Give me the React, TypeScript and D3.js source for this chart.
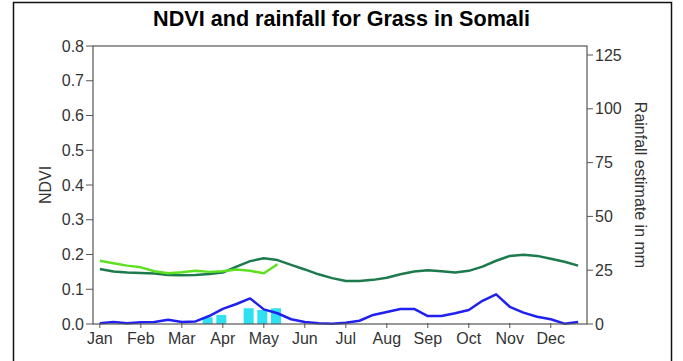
import React, { useEffect, useRef } from "react";
import * as d3 from "d3";

// Dekadal series (36 dekads, Jan–Dec)
const months = ["Jan", "Feb", "Mar", "Apr", "May", "Jun", "Jul", "Aug", "Sep", "Oct", "Nov", "Dec"];
const ndviTicks = [0, 0.1, 0.2, 0.3, 0.4, 0.5, 0.6, 0.7, 0.8];
const rainTicks = [0, 25, 50, 75, 100, 125];

// Long-term average NDVI
const ndviAverage = [
  0.158, 0.151, 0.148, 0.147, 0.145, 0.141, 0.140, 0.141, 0.144, 0.148, 0.165, 0.181,
  0.189, 0.184, 0.170, 0.157, 0.143, 0.132, 0.124, 0.124, 0.127, 0.133, 0.143, 0.151,
  0.155, 0.152, 0.148, 0.153, 0.165, 0.182, 0.196, 0.199, 0.196, 0.188, 0.179, 0.168,
];

// Current-year NDVI (available through mid May)
const ndviCurrent = [
  0.182, 0.175, 0.168, 0.163, 0.152, 0.146, 0.149, 0.153, 0.150, 0.152, 0.157, 0.153, 0.146, 0.172,
];

// Long-term average rainfall (mm)
const rainAverage = [
  0.3, 0.9, 0.3, 0.8, 0.9, 2.0, 0.9, 1.2, 3.7, 7.0, 9.3, 11.9,
  6.8, 5.0, 2.2, 0.9, 0.3, 0.15, 0.6, 1.5, 4.2, 5.6, 7.0, 7.0,
  3.7, 3.7, 5.0, 6.5, 10.8, 13.8, 8.0, 5.3, 3.4, 2.2, 0.15, 0.9,
];

// Current-year rainfall estimate (mm)
const rainCurrent = [0, 0, 0, 0, 0, 0, 0, 0, 3.1, 4.2, 0, 7.3, 6.5, 7.3];

const W = 683;
const H = 361;
const plot = { left: 93, right: 587, top: 46, bottom: 324 };
const FONT = "'Liberation Sans', Arial, sans-serif";

export default function App() {
  const ref = useRef<SVGSVGElement>(null);

  useEffect(() => {
    const svg = d3.select(ref.current);
    svg.selectAll("*").remove();

    const x = d3.scaleLinear().domain([-0.5, 35.65]).range([plot.left, plot.right]);
    const yN = d3.scaleLinear().domain([0, 0.8]).range([plot.bottom, plot.top]);
    const yR = d3.scaleLinear().domain([0, (125 * 278) / 269]).range([plot.bottom, plot.top]);

    svg.append("rect").attr("width", W).attr("height", H).attr("fill", "#fff");
    // outer frame
    svg.append("rect")
      .attr("x", 13.5).attr("y", 2.5).attr("width", 658).attr("height", 370)
      .attr("fill", "none").attr("stroke", "#111").attr("stroke-width", 1.5);

    svg.append("text")
      .attr("x", 341.5).attr("y", 26).attr("text-anchor", "middle")
      .attr("font-family", FONT).attr("font-weight", "bold").attr("font-size", 21.6)
      .attr("fill", "#000").text("NDVI and rainfall for Grass in Somali");

    // rainfall bars
    svg.append("g").selectAll("rect")
      .data(rainCurrent.map((v, i) => ({ v, i })).filter((d) => d.v > 0))
      .join("rect")
      .attr("x", (d) => x(d.i) - 6.5)
      .attr("width", 10)
      .attr("y", (d) => yR(d.v))
      .attr("height", (d) => yR(0) - yR(d.v))
      .attr("fill", "#2ee0f2");

    const lineN = d3.line<number>().x((_, i) => x(i)).y((d) => yN(d));
    const lineR = d3.line<number>().x((_, i) => x(i)).y((d) => yR(d));

    svg.append("path").attr("d", lineN(ndviAverage)!).attr("fill", "none")
      .attr("stroke", "#1c7a4c").attr("stroke-width", 2.5).attr("stroke-linejoin", "round");
    svg.append("path").attr("d", lineN(ndviCurrent)!).attr("fill", "none")
      .attr("stroke", "#5ee022").attr("stroke-width", 2.5).attr("stroke-linejoin", "round");
    svg.append("path").attr("d", lineR(rainAverage)!).attr("fill", "none")
      .attr("stroke", "#2020f0").attr("stroke-width", 2.5).attr("stroke-linejoin", "round");

    // plot frame
    svg.append("rect")
      .attr("x", plot.left).attr("y", plot.top)
      .attr("width", plot.right - plot.left).attr("height", plot.bottom - plot.top)
      .attr("fill", "none").attr("stroke", "#555").attr("stroke-width", 1.2);

    const tickColor = "#555";
    const labelColor = "#333";

    // left axis
    const gl = svg.append("g");
    ndviTicks.forEach((t) => {
      gl.append("line").attr("x1", plot.left - 7).attr("x2", plot.left)
        .attr("y1", yN(t)).attr("y2", yN(t)).attr("stroke", tickColor);
      gl.append("text").attr("x", plot.left - 9).attr("y", yN(t) + 5.5)
        .attr("text-anchor", "end").attr("font-family", FONT).attr("font-size", 16)
        .attr("fill", labelColor).text(d3.format(".1f")(t));
    });

    // right axis
    const gr = svg.append("g");
    rainTicks.forEach((t) => {
      gr.append("line").attr("x1", plot.right).attr("x2", plot.right + 6)
        .attr("y1", yR(t)).attr("y2", yR(t)).attr("stroke", tickColor);
      gr.append("text").attr("x", plot.right + 8).attr("y", yR(t) + 5.5)
        .attr("text-anchor", "start").attr("font-family", FONT).attr("font-size", 16)
        .attr("fill", labelColor).text(String(t));
    });

    // month axis
    const gb = svg.append("g");
    months.forEach((m, k) => {
      const px = x(k * 3);
      gb.append("line").attr("x1", px).attr("x2", px)
        .attr("y1", plot.bottom - 1).attr("y2", plot.bottom + 4).attr("stroke", tickColor);
      gb.append("text").attr("x", px).attr("y", 344)
        .attr("text-anchor", "middle").attr("font-family", FONT).attr("font-size", 16)
        .attr("fill", labelColor).text(m);
    });

    svg.append("text")
      .attr("transform", `translate(51,${(plot.top + plot.bottom) / 2}) rotate(-90)`)
      .attr("text-anchor", "middle").attr("font-family", FONT).attr("font-size", 16)
      .attr("fill", labelColor).text("NDVI");
    svg.append("text")
      .attr("transform", `translate(635,${(plot.top + plot.bottom) / 2}) rotate(90)`)
      .attr("text-anchor", "middle").attr("font-family", FONT).attr("font-size", 16)
      .attr("fill", labelColor).text("Rainfall estimate in mm");
  }, []);

  return (
    <svg
      ref={ref}
      width={W}
      height={H}
      style={{ position: "fixed", left: 0, top: 0, display: "block" }}
    />
  );
}
